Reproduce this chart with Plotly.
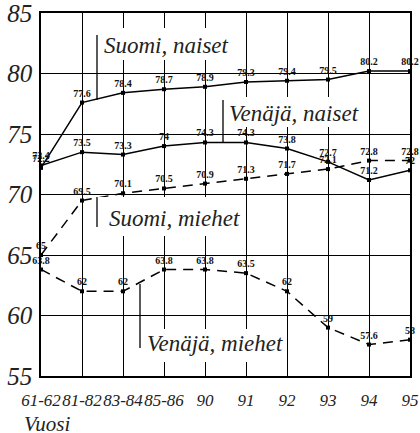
import plotly.graph_objects as go

categories = ["61-62", "81-82", "83-84", "85-86", "90", "91", "92", "93", "94", "95"]
suomi_naiset = [72.2, 77.6, 78.4, 78.7, 78.9, 79.3, 79.4, 79.5, 80.2, 80.2]
venaja_naiset = [72.4, 73.5, 73.3, 74.0, 74.3, 74.3, 73.8, 72.7, 71.2, 72.0]
suomi_miehet = [65.0, 69.5, 70.1, 70.5, 70.9, 71.3, 71.7, 72.1, 72.8, 72.8]
venaja_miehet = [63.8, 62.0, 62.0, 63.8, 63.8, 63.5, 62.0, 59.0, 57.6, 58.0]
y_ticks = [55, 60, 65, 70, 75, 80, 85]

W, H = 420, 433
ML, MR, MT, MB = 41, 10, 13, 57
PW, PH = W - ML - MR, H - MT - MB
Y0, Y1 = 55, 85
xs = list(range(len(categories)))

def dx(px):
    return (px - ML) / PW * (len(categories) - 1)

def dy(py):
    return Y1 - (py - MT) / PH * (Y1 - Y0)

SERIF = "Liberation Serif, Times New Roman, serif"

fig = go.Figure()

def fmt(v):
    return ("%g" % v)

series = [
    (suomi_naiset, "solid"),
    (venaja_naiset, "solid"),
    (suomi_miehet, "10px,7px"),
    (venaja_miehet, "10px,7px"),
]
for vals, dash in series:
    fig.add_trace(go.Scatter(
        x=xs, y=vals, mode="lines+markers+text",
        text=[fmt(v) for v in vals], textposition="top center",
        textfont=dict(family=SERIF, size=10, color="#111", weight="bold"),
        line=dict(color="black", width=1.5, dash=dash),
        marker=dict(color="black", size=4, symbol="square"),
        cliponaxis=False, showlegend=False, hoverinfo="skip",
    ))

boxes = [
    # text, box px (x0, y0, x1, y1), leader px (x, ya, yb), text px (x, yc)
    ("Suomi, naiset", (97, 28, 240, 60), (97, 100, 35), (102, 45)),
    ("Venäjä, naiset", (223, 97, 364, 127), (223, 143, 100), (227, 113)),
    ("Suomi, miehet", (97, 197, 243, 236), (97, 197, 227), (107, 218)),
    ("Venäjä, miehet", (140, 329, 284, 362), (140, 284, 348), (145, 343)),
]
shapes = []
annotations = []
for text, (bx0, by0, bx1, by1), (lx, ly0, ly1), (tx, ty) in boxes:
    shapes.append(dict(type="rect", xref="x", yref="y", x0=dx(bx0), x1=dx(bx1),
                       y0=dy(by0), y1=dy(by1), fillcolor="white",
                       line=dict(width=0), layer="above"))
    shapes.append(dict(type="line", xref="x", yref="y", x0=dx(lx), x1=dx(lx),
                       y0=dy(ly0), y1=dy(ly1), line=dict(color="black", width=1.3),
                       layer="above"))
    annotations.append(dict(text=text, x=dx(tx), y=dy(ty), xref="x", yref="y",
                            xanchor="left", yanchor="middle", showarrow=False,
                            font=dict(family=SERIF, size=23, color="#222", style="italic")))

annotations.append(dict(text="Vuosi", x=(22 - ML) / PW, y=-(424 - MT - PH) / PH,
                        xref="paper", yref="paper", xanchor="left", yanchor="middle",
                        showarrow=False,
                        font=dict(family=SERIF, size=21, color="#222", style="italic")))

fig.update_layout(
    width=W, height=H,
    margin=dict(l=ML, r=MR, t=MT, b=MB, pad=0, autoexpand=False),
    paper_bgcolor="white", plot_bgcolor="white",
    shapes=shapes, annotations=annotations,
    xaxis=dict(
        range=[0, len(categories) - 1], tickvals=xs, ticktext=categories,
        tickangle=0, automargin=False, ticklabeloverflow="allow",
        showgrid=True, gridcolor="black", gridwidth=1,
        showline=True, linecolor="black", linewidth=1.5, mirror=True,
        zeroline=False, ticks="outside", ticklen=8, tickcolor="rgba(0,0,0,0)",
        tickfont=dict(family=SERIF, size=17, color="#222", style="italic"),
    ),
    yaxis=dict(
        range=[Y0, Y1], tickvals=y_ticks, automargin=False, ticklabeloverflow="allow",
        showgrid=True, gridcolor="black", gridwidth=1,
        showline=True, linecolor="black", linewidth=1.5, mirror=True,
        zeroline=False, ticks="outside", ticklen=2, tickcolor="rgba(0,0,0,0)",
        tickfont=dict(family=SERIF, size=25, color="#222", style="italic"),
    ),
)

fig.write_html("out.html", config={"displayModeBar": False},
               post_script="document.body.style.margin='0';document.body.style.overflow='hidden';")
